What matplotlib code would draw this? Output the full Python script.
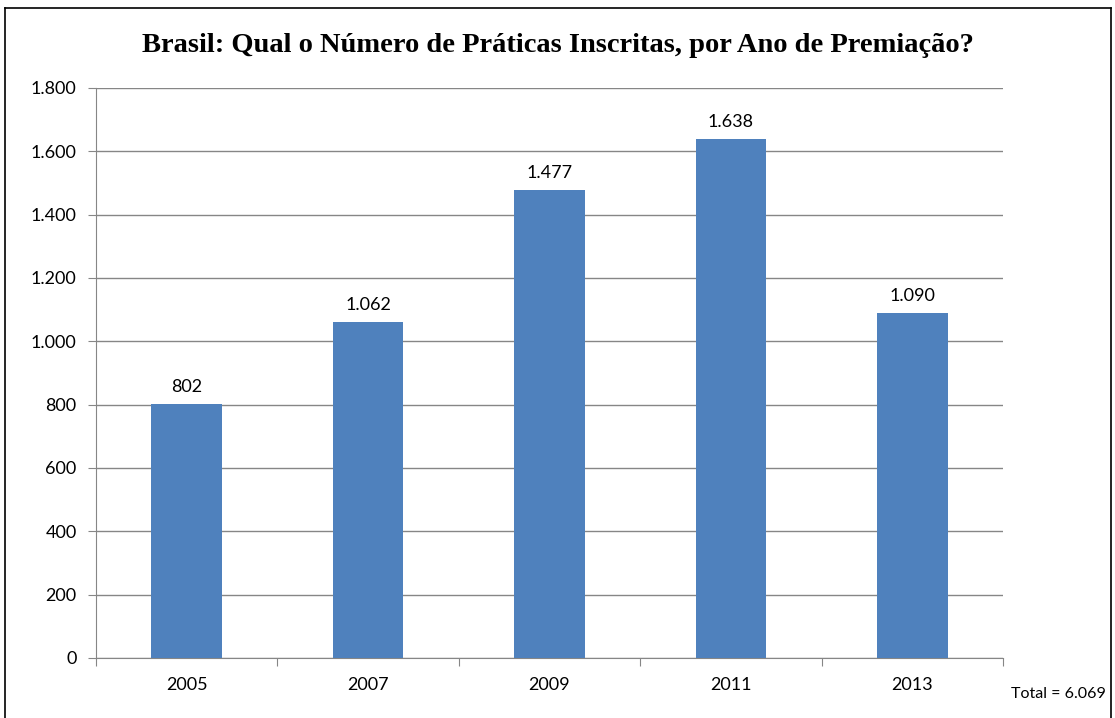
import matplotlib.pyplot as plt
from matplotlib.lines import Line2D

anos = ["2005", "2007", "2009", "2011", "2013"]
praticas = [802, 1062, 1477, 1638, 1090]
y_ticks = [0, 200, 400, 600, 800, 1000, 1200, 1400, 1600, 1800]
total = "Total = 6.069"


def fmt(v):
    # separador de milhar com ponto
    return f"{v:,}".replace(",", ".")


plt.rcParams['font.family'] = ['Lato', 'DejaVu Sans']

fig = plt.figure(figsize=(11.15, 7.18), dpi=100)
ax = fig.add_axes([96 / 1115, 60 / 718, 907 / 1115, 570 / 718])

x = list(range(len(anos)))
ax.bar(x, praticas, width=0.39, color="#4F81BD", zorder=3)
for xi, v in zip(x, praticas):
    ax.text(xi, v + 28, fmt(v), ha="center", va="bottom", fontsize=13)

ax.set_xlim(-0.5, len(anos) - 0.5)
ax.set_ylim(0, 1800)
ax.set_yticks(y_ticks)
ax.set_yticklabels([fmt(t) for t in y_ticks], fontsize=13)
ax.yaxis.grid(True, color="#868686", linewidth=1, zorder=0)
ax.tick_params(axis="y", length=6, color="#868686", pad=8)

# marcas entre categorias no eixo x
ax.set_xticks([i - 0.5 for i in range(len(anos) + 1)])
ax.set_xticklabels([])
ax.set_xticks(x, minor=True)
ax.set_xticklabels(anos, minor=True, fontsize=13)
ax.tick_params(axis="x", which="major", length=6, color="#868686")
ax.tick_params(axis="x", which="minor", length=0, pad=14)

for s in ["top", "right"]:
    ax.spines[s].set_visible(False)
for s in ["left", "bottom"]:
    ax.spines[s].set_color("#868686")

fig.text(0.5, 1 - 46 / 718, "Brasil: Qual o Número de Práticas Inscritas, por Ano de Premiação?",
         ha="center", va="center", fontsize=20.5, fontweight="bold", family="Liberation Serif")
fig.text(1058 / 1115, 1 - 694 / 718, total, ha="center", va="center", fontsize=11.5)

# moldura
for xs, ys in [([5, 5], [0, 710]), ([5, 1111], [710, 710]), ([1111, 1111], [0, 710])]:
    fig.add_artist(Line2D([v / 1115 for v in xs], [v / 718 for v in ys], color="black", linewidth=1.2))

fig.savefig("out.png", dpi=100)
